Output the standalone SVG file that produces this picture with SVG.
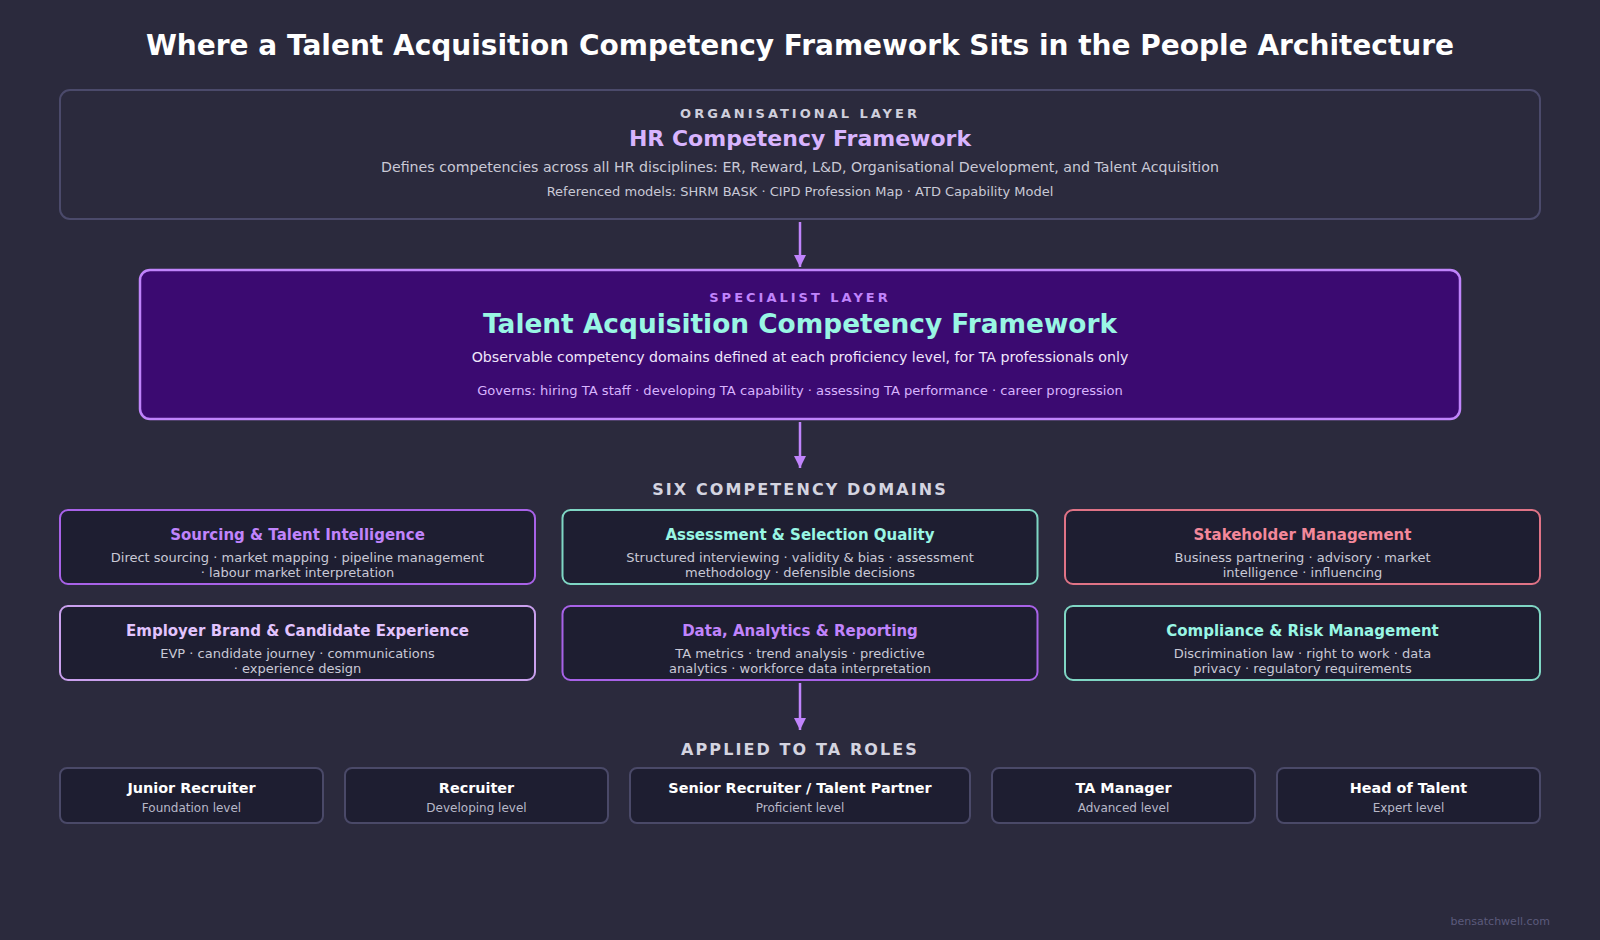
<svg xmlns="http://www.w3.org/2000/svg" width="1600" height="940" viewBox="0 0 1600 940">
<defs>
<marker id="ahd" markerWidth="14" markerHeight="12" refX="12" refY="6" orient="auto" markerUnits="userSpaceOnUse">
<path d="M0,0 L12,6 L0,12 Z" fill="#c084fc"/>
</marker>
<style>
text{font-family:"DejaVu Sans","Liberation Sans",sans-serif;text-anchor:middle;dominant-baseline:central}
.title{font-size:28px;font-weight:bold;fill:#ffffff}
.layer{font-size:13px;font-weight:bold;letter-spacing:3px}
.sec{font-size:16px;font-weight:bold;letter-spacing:2.1px;fill:#d4d4e0}
.dom{fill:#1e1e31;stroke-width:2}
.dt{font-size:15px;font-weight:bold}
.dd{font-size:13px;fill:#c9c9d6}
.role{fill:#1e1e31;stroke:#4a4968;stroke-width:2}
.rt{font-size:14.4px;font-weight:bold;fill:#ffffff}
.rs{font-size:12px;fill:#b8b8c8}
.conn{stroke:#c084fc;stroke-width:2.5;fill:none}
</style>
</defs>
<rect width="1600" height="940" fill="#2b2a3d"/>
<text class="title" x="800" y="45">Where a Talent Acquisition Competency Framework Sits in the People Architecture</text>

<g id="org-layer">
<rect x="60" y="90" width="1480" height="129" rx="10" fill="#2b2a3d" stroke="#4b4a6b" stroke-width="2"/>
<text class="layer" x="800" y="113" fill="#cfcfdc">ORGANISATIONAL LAYER</text>
<text x="800" y="138" font-size="22" font-weight="bold" fill="#d8b4fe">HR Competency Framework</text>
<text x="800" y="167" font-size="14.2" fill="#c9c9d6">Defines competencies across all HR disciplines: ER, Reward, L&amp;D, Organisational Development, and Talent Acquisition</text>
<text x="800" y="191" font-size="13" fill="#c9c9d6">Referenced models: SHRM BASK · CIPD Profession Map · ATD Capability Model</text>
</g>

<g id="specialist-layer">
<rect x="140" y="270" width="1320" height="149" rx="10" fill="#3b0a71" stroke="#c084fc" stroke-width="2.5"/>
<text class="layer" x="800" y="297" fill="#c084fc">SPECIALIST LAYER</text>
<text x="800" y="323" font-size="26.4" font-weight="bold" fill="#99f6e4">Talent Acquisition Competency Framework</text>
<text x="800" y="357" font-size="14.2" fill="#efe6fb">Observable competency domains defined at each proficiency level, for TA professionals only</text>
<text x="800" y="390" font-size="13.1" fill="#d8b4fe">Governs: hiring TA staff · developing TA capability · assessing TA performance · career progression</text>
</g>

<text class="sec" x="800" y="489">SIX COMPETENCY DOMAINS</text>

<g id="domain-sourcing">
<rect class="dom" x="60" y="510" width="475" height="74" rx="8" stroke="#a862e8"/>
<text class="dt" x="297.5" y="535" fill="#c084fc">Sourcing &amp; Talent Intelligence</text>
<text class="dd" x="297.5" y="557">Direct sourcing · market mapping · pipeline management</text>
<text class="dd" x="297.5" y="572">· labour market interpretation</text>
</g>
<g id="domain-assessment">
<rect class="dom" x="562.5" y="510" width="475" height="74" rx="8" stroke="#7fd6c4"/>
<text class="dt" x="800" y="535" fill="#99f6e4">Assessment &amp; Selection Quality</text>
<text class="dd" x="800" y="557">Structured interviewing · validity &amp; bias · assessment</text>
<text class="dd" x="800" y="572">methodology · defensible decisions</text>
</g>
<g id="domain-stakeholder">
<rect class="dom" x="1065" y="510" width="475" height="74" rx="8" stroke="#e07386"/>
<text class="dt" x="1302.5" y="535" fill="#f3889a">Stakeholder Management</text>
<text class="dd" x="1302.5" y="557">Business partnering · advisory · market</text>
<text class="dd" x="1302.5" y="572">intelligence · influencing</text>
</g>
<g id="domain-brand">
<rect class="dom" x="60" y="606" width="475" height="74" rx="8" stroke="#caa0ee"/>
<text class="dt" x="297.5" y="631" fill="#e2c4fe">Employer Brand &amp; Candidate Experience</text>
<text class="dd" x="297.5" y="653">EVP · candidate journey · communications</text>
<text class="dd" x="297.5" y="668">· experience design</text>
</g>
<g id="domain-data">
<rect class="dom" x="562.5" y="606" width="475" height="74" rx="8" stroke="#a862e8"/>
<text class="dt" x="800" y="631" fill="#c084fc">Data, Analytics &amp; Reporting</text>
<text class="dd" x="800" y="653">TA metrics · trend analysis · predictive</text>
<text class="dd" x="800" y="668">analytics · workforce data interpretation</text>
</g>
<g id="domain-compliance">
<rect class="dom" x="1065" y="606" width="475" height="74" rx="8" stroke="#7fd6c4"/>
<text class="dt" x="1302.5" y="631" fill="#99f6e4">Compliance &amp; Risk Management</text>
<text class="dd" x="1302.5" y="653">Discrimination law · right to work · data</text>
<text class="dd" x="1302.5" y="668">privacy · regulatory requirements</text>
</g>

<text class="sec" x="800" y="749">APPLIED TO TA ROLES</text>

<g id="role-junior">
<rect class="role" x="60" y="768" width="263" height="55" rx="7"/>
<text class="rt" x="191.5" y="788">Junior Recruiter</text>
<text class="rs" x="191.5" y="808">Foundation level</text>
</g>
<g id="role-recruiter">
<rect class="role" x="345" y="768" width="263" height="55" rx="7"/>
<text class="rt" x="476.5" y="788">Recruiter</text>
<text class="rs" x="476.5" y="808">Developing level</text>
</g>
<g id="role-senior">
<rect class="role" x="630" y="768" width="340" height="55" rx="7"/>
<text class="rt" x="800" y="788">Senior Recruiter / Talent Partner</text>
<text class="rs" x="800" y="808">Proficient level</text>
</g>
<g id="role-manager">
<rect class="role" x="992" y="768" width="263" height="55" rx="7"/>
<text class="rt" x="1123.5" y="788">TA Manager</text>
<text class="rs" x="1123.5" y="808">Advanced level</text>
</g>
<g id="role-head">
<rect class="role" x="1277" y="768" width="263" height="55" rx="7"/>
<text class="rt" x="1408.5" y="788">Head of Talent</text>
<text class="rs" x="1408.5" y="808">Expert level</text>
</g>

<g id="connectors">
<line class="conn" x1="800" y1="222" x2="800" y2="267" marker-end="url(#ahd)"/>
<line class="conn" x1="800" y1="422" x2="800" y2="468" marker-end="url(#ahd)"/>
<line class="conn" x1="800" y1="683" x2="800" y2="730" marker-end="url(#ahd)"/>
</g>

<text x="1550" y="921" font-size="11" fill="#5b5a7c" style="text-anchor:end">bensatchwell.com</text>
</svg>
